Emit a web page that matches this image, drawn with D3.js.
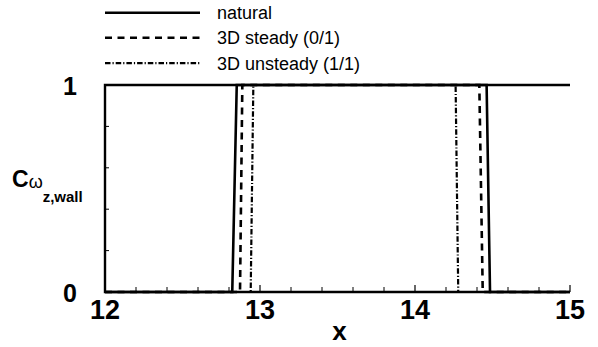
<!DOCTYPE html>
<html>
<head>
<meta charset="utf-8">
<script src="https://cdn.jsdelivr.net/npm/d3@7"></script>
<style>
  html, body { margin: 0; padding: 0; background: #fff; }
  svg { display: block; font-family: "Liberation Sans", Arial, sans-serif; }
</style>
</head>
<body>
<svg id="chart" width="598" height="347"></svg>
<script>
// Wall vorticity indicator along x for three flow solutions
const seriesNames = ["natural", "3D steady (0/1)", "3D unsteady (1/1)"];
const naturalX = [12, 12.821, 12.85, 14.462, 14.484, 15];
const naturalC = [0, 0, 1, 1, 0, 0];
const steadyX = [12, 12.871, 12.886, 14.415, 14.437, 15];
const steadyC = [0, 0, 1, 1, 0, 0];
const unsteadyX = [12, 12.940, 12.957, 14.262, 14.279, 15];
const unsteadyC = [0, 0, 1, 1, 0, 0];
const xTickLabels = [12, 13, 14, 15];
const yTickLabels = [0, 1];

const svg = d3.select("#chart");
const x = d3.scaleLinear().domain([12, 15]).range([105, 570]);
const y = d3.scaleLinear().domain([0, 1]).range([292, 85]);

const styles = [
  { dash: null, width: 2.6 },
  { dash: "7,5.5", width: 2.6 },
  { dash: "5.5,2,1.2,2", width: 2.2 }
];

const series = [
  naturalX.map((v, i) => [v, naturalC[i]]),
  steadyX.map((v, i) => [v, steadyC[i]]),
  unsteadyX.map((v, i) => [v, unsteadyC[i]])
];

// minor ticks (inward)
const minorX = d3.range(12, 15.0001, 0.2).filter(v => Math.abs(v - Math.round(v)) > 1e-6);
svg.append("g").selectAll("line").data(minorX).join("line")
  .attr("x1", d => x(d)).attr("x2", d => x(d))
  .attr("y1", y(0)).attr("y2", y(0) - 5)
  .attr("stroke", "#000").attr("stroke-width", 1);
svg.append("g").selectAll("line").data(xTickLabels).join("line")
  .attr("x1", d => x(d)).attr("x2", d => x(d))
  .attr("y1", y(0)).attr("y2", y(0) - 7)
  .attr("stroke", "#000").attr("stroke-width", 1.2);
const minorY = d3.range(0.2, 0.9999, 0.2);
svg.append("g").selectAll("line").data(minorY).join("line")
  .attr("x1", x(12)).attr("x2", x(12) + 4)
  .attr("y1", d => y(d)).attr("y2", d => y(d))
  .attr("stroke", "#000").attr("stroke-width", 1);

// data lines
const line = d3.line().x(d => x(d[0])).y(d => y(d[1]));
series.forEach((s, i) => {
  svg.append("path").datum(s)
    .attr("d", line)
    .attr("fill", "none")
    .attr("stroke", "#000")
    .attr("stroke-width", styles[i].width)
    .attr("stroke-dasharray", styles[i].dash);
});

// frame: left, bottom and top
svg.append("path")
  .attr("d", `M${x(15)},${y(1)}H${x(12)}V${y(0)}H${x(15)}`)
  .attr("fill", "none").attr("stroke", "#000").attr("stroke-width", 2.4);

// tick labels
svg.append("g").selectAll("text").data(xTickLabels).join("text")
  .attr("x", d => x(d)).attr("y", 319)
  .attr("text-anchor", "middle")
  .attr("font-size", 27).attr("font-weight", "bold")
  .text(d => d);
svg.append("g").selectAll("text").data(yTickLabels).join("text")
  .attr("x", 70).attr("y", d => y(d) + 9.5)
  .attr("text-anchor", "middle")
  .attr("font-size", 25).attr("font-weight", "bold")
  .text(d => d);

// axis titles
svg.append("text").attr("x", 339.5).attr("y", 340)
  .attr("text-anchor", "middle").attr("font-size", 26).attr("font-weight", "bold")
  .text("x");
const yt = svg.append("text").attr("x", 12).attr("y", 187);
yt.append("tspan").attr("font-size", 23).attr("font-weight", "bold").text("C");
yt.append("tspan").attr("font-size", 18).attr("dy", 1).text("ω");
yt.append("tspan").attr("font-size", 15).attr("font-weight", "bold").attr("dy", 14).text("z,wall");

// legend
const legY = [12.7, 37.8, 63.2];
seriesNames.forEach((name, i) => {
  svg.append("line")
    .attr("x1", 105).attr("x2", 200)
    .attr("y1", legY[i]).attr("y2", legY[i])
    .attr("stroke", "#000")
    .attr("stroke-width", styles[i].width)
    .attr("stroke-dasharray", styles[i].dash);
  svg.append("text")
    .attr("x", 217).attr("y", legY[i] + 6.3)
    .attr("font-size", 18)
    .text(name);
});
</script>
</body>
</html>
